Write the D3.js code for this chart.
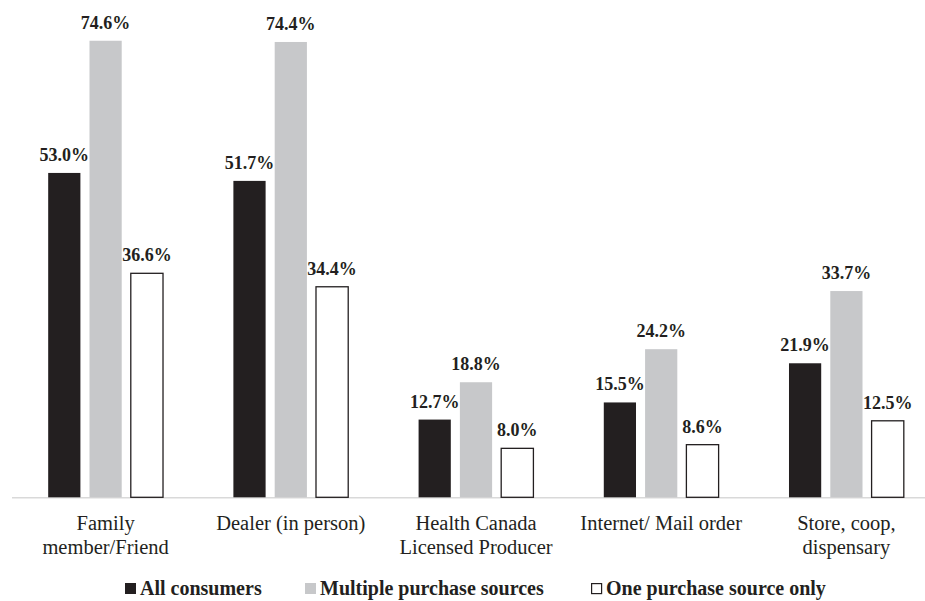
<!DOCTYPE html>
<html>
<head>
<meta charset="utf-8">
<script src="https://cdn.jsdelivr.net/npm/d3@7"></script>
<style>
  body { margin: 0; background: #fff; }
  svg { display: block; }
</style>
</head>
<body>
<svg id="svg" width="925" height="601"></svg>
<script>
const categories = [
	['Family', 'member/Friend'],
	['Dealer (in person)'],
	['Health Canada', 'Licensed Producer'],
	['Internet/ Mail order'],
	['Store, coop,', 'dispensary'],
];
const series = ['All consumers', 'Multiple purchase sources', 'One purchase source only'];
const allConsumers = [53.0, 51.7, 12.7, 15.5, 21.9];
const multipleSources = [74.6, 74.4, 18.8, 24.2, 33.7];
const oneSource = [36.6, 34.4, 8.0, 8.6, 12.5];

const values = [allConsumers, multipleSources, oneSource];
const fills = ['#231f20', '#c7c8ca', '#ffffff'];
const font = 'Liberation Serif';

const svg = d3.select('svg');
const width = 925;

const catKeys = categories.map((c) => c.join(' '));

const x0 = d3.scaleBand().domain(catKeys).range([13, 939]).paddingInner(0.38).paddingOuter(0.19);
const x1 = d3.scaleBand().domain(series).range([0, x0.bandwidth()]).paddingInner(0.22).paddingOuter(0);
const y = d3.scaleLinear().domain([0, 80]).range([497.3, 7.7]);

// baseline
svg.append('line')
	.attr('x1', 12)
	.attr('x2', width)
	.attr('y1', y(0) + 0.5)
	.attr('y2', y(0) + 0.5)
	.attr('stroke', '#d9d9d9')
	.attr('stroke-width', 1.5);

// bars
const groups = svg
	.selectAll('g.group')
	.data(catKeys)
	.enter()
	.append('g')
	.attr('class', 'group')
	.attr('transform', (d) => `translate(${x0(d)},0)`);

groups
	.selectAll('rect')
	.data((d, i) => series.map((s, j) => ({ s: s, j: j, v: values[j][i] })))
	.enter()
	.append('rect')
	.attr('x', (d) => x1(d.s))
	.attr('y', (d) => y(d.v))
	.attr('width', x1.bandwidth())
	.attr('height', (d) => y(0) - y(d.v))
	.attr('fill', (d) => fills[d.j])
	.attr('stroke', (d) => (d.j === 2 ? '#231f20' : 'none'))
	.attr('stroke-width', 1.3);

// value labels
groups
	.selectAll('text.val')
	.data((d, i) => series.map((s, j) => ({ s: s, v: values[j][i] })))
	.enter()
	.append('text')
	.attr('class', 'val')
	.attr('x', (d) => x1(d.s) + x1.bandwidth() / 2)
	.attr('y', (d) => y(d.v) - 12)
	.attr('text-anchor', 'middle')
	.attr('font-family', font)
	.attr('font-weight', 'bold')
	.attr('font-size', 18)
	.attr('fill', '#231f20')
	.text((d) => d.v.toFixed(1) + '%');

// category labels
const cat = svg
	.selectAll('text.cat')
	.data(categories)
	.enter()
	.append('text')
	.attr('class', 'cat')
	.attr('text-anchor', 'middle')
	.attr('font-family', font)
	.attr('font-size', 20.5)
	.attr('fill', '#231f20');

cat.selectAll('tspan')
	.data((d, i) => d.map((line) => ({ line: line, key: catKeys[i] })))
	.enter()
	.append('tspan')
	.attr('x', (d) => x0(d.key) + x0.bandwidth() / 2)
	.attr('y', (d, k) => 530 + k * 23.5)
	.text((d) => d.line);

// legend
const legendX = [125, 305, 591];
const legend = svg
	.selectAll('g.legend')
	.data(series)
	.enter()
	.append('g')
	.attr('class', 'legend')
	.attr('transform', (d, i) => `translate(${legendX[i]},583)`);

legend.append('rect')
	.attr('x', (d, i) => (i === 2 ? 0.6 : 0))
	.attr('y', (d, i) => (i === 2 ? 0.6 : 0))
	.attr('width', (d, i) => (i === 2 ? 10 : 11))
	.attr('height', (d, i) => (i === 2 ? 10 : 11))
	.attr('fill', (d, i) => fills[i])
	.attr('stroke', (d, i) => (i === 2 ? '#231f20' : 'none'))
	.attr('stroke-width', 1.2);

legend.append('text')
	.attr('x', 15)
	.attr('y', 12)
	.attr('font-family', font)
	.attr('font-weight', 'bold')
	.attr('font-size', 20)
	.attr('fill', '#231f20')
	.text((d) => d);
</script>
</body>
</html>
